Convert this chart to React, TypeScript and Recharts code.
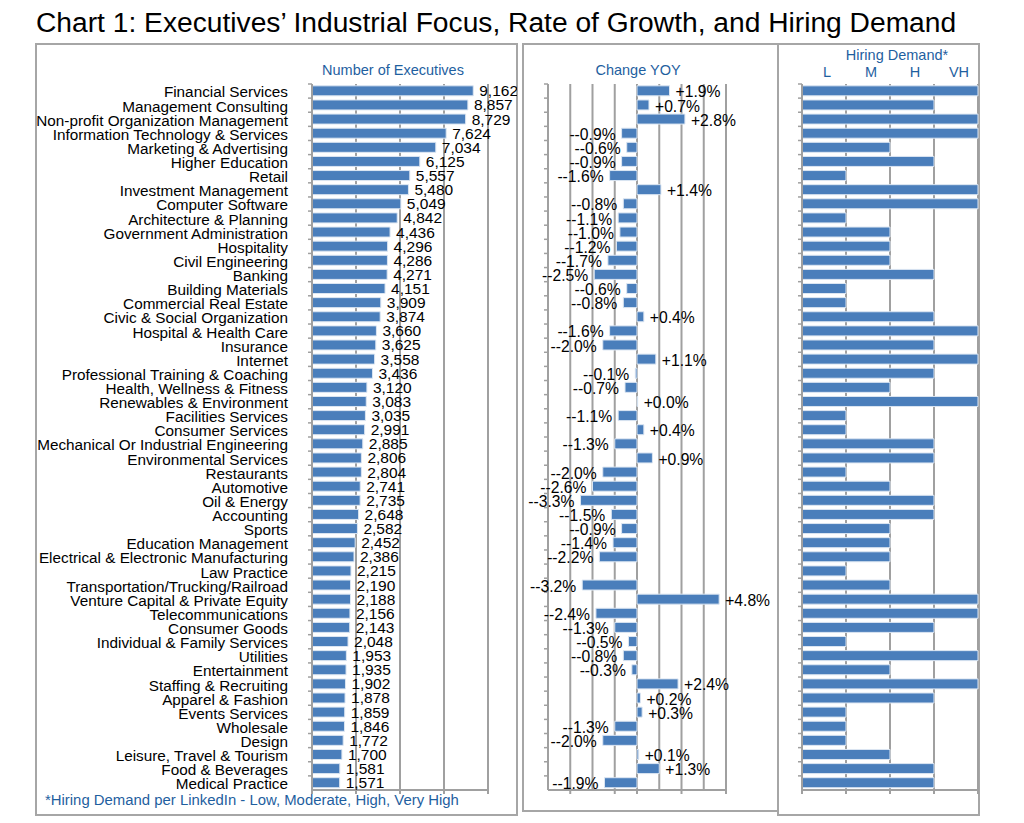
import React from 'react';
import { BarChart, Bar, XAxis, YAxis, CartesianGrid, LabelList } from 'recharts';

const FONT = '"Liberation Sans", Arial, Helvetica, sans-serif';
const BAR_FILL = '#4a7ebb';
const BAR_STROKE = '#dce6f2';
const GRID = '#a0a0a0';
const HEADER = '#1f5f9f';

const TITLE = 'Chart 1: Executives\u2019 Industrial Focus, Rate of Growth, and Hiring Demand';
const FOOTNOTE = '*Hiring Demand per LinkedIn - Low, Moderate, High, Very High';

const categories = [
  'Financial Services',
  'Management Consulting',
  'Non-profit Organization Management',
  'Information Technology & Services',
  'Marketing & Advertising',
  'Higher Education',
  'Retail',
  'Investment Management',
  'Computer Software',
  'Architecture & Planning',
  'Government Administration',
  'Hospitality',
  'Civil Engineering',
  'Banking',
  'Building Materials',
  'Commercial Real Estate',
  'Civic & Social Organization',
  'Hospital & Health Care',
  'Insurance',
  'Internet',
  'Professional Training & Coaching',
  'Health, Wellness & Fitness',
  'Renewables & Environment',
  'Facilities Services',
  'Consumer Services',
  'Mechanical Or Industrial Engineering',
  'Environmental Services',
  'Restaurants',
  'Automotive',
  'Oil & Energy',
  'Accounting',
  'Sports',
  'Education Management',
  'Electrical & Electronic Manufacturing',
  'Law Practice',
  'Transportation/Trucking/Railroad',
  'Venture Capital & Private Equity',
  'Telecommunications',
  'Consumer Goods',
  'Individual & Family Services',
  'Utilities',
  'Entertainment',
  'Staffing & Recruiting',
  'Apparel & Fashion',
  'Events Services',
  'Wholesale',
  'Design',
  'Leisure, Travel & Tourism',
  'Food & Beverages',
  'Medical Practice',
];

const executives = [
  9162, 8857, 8729, 7624, 7034, 6125, 5557, 5480, 5049, 4842,
  4436, 4296, 4286, 4271, 4151, 3909, 3874, 3660, 3625, 3558,
  3436, 3120, 3083, 3035, 2991, 2885, 2806, 2804, 2741, 2735,
  2648, 2582, 2452, 2386, 2215, 2190, 2188, 2156, 2143, 2048,
  1953, 1935, 1902, 1878, 1859, 1846, 1772, 1700, 1581, 1571,
];

const changeYoy = [
  1.9, 0.7, 2.8, -0.9, -0.6, -0.9, -1.6, 1.4, -0.8, -1.1,
  -1.0, -1.2, -1.7, -2.5, -0.6, -0.8, 0.4, -1.6, -2.0, 1.1,
  -0.1, -0.7, 0.04, -1.1, 0.4, -1.3, 0.9, -2.0, -2.6, -3.3,
  -1.5, -0.9, -1.4, -2.2, 0.0, -3.2, 4.8, -2.4, -1.3, -0.5,
  -0.8, -0.3, 2.4, 0.2, 0.3, -1.3, -2.0, 0.1, 1.3, -1.9,
];

// 1 = Low, 2 = Moderate, 3 = High, 4 = Very High
const hiringDemand = [
  4, 3, 4, 4, 2, 3, 1, 4, 4, 1,
  2, 2, 2, 3, 1, 1, 3, 4, 3, 4,
  3, 2, 4, 1, 1, 3, 3, 1, 2, 3,
  3, 2, 2, 2, 1, 2, 4, 4, 3, 1,
  4, 2, 4, 3, 1, 1, 1, 2, 3, 3,
];

const hiringLevels = ['L', 'M', 'H', 'VH'];
const hiringTicks = [0, 1, 2, 3, 4];
const execTicks = [0, 2500, 5000, 7500, 10000];
const changeTicks = [-5.2, -3.9, -2.6, -1.3, 0, 1.3, 2.6, 3.9, 5.2];

const rows = categories.map((name, i) => ({
  name,
  executives: executives[i],
  change: changeYoy[i],
  hiring: hiringDemand[i],
}));

const CHART_H = 771;
const PLOT_TOP = 40;
const X_AXIS_H = 25;
const BAND = (CHART_H - PLOT_TOP - X_AXIS_H) / categories.length;

// hiring panel geometry (left edge of plot and width per level)
const HIRE_LEFT = 802;
const HIRE_STEP = 44;

const fmtChange = (v: number) => {
  if (v > 0) return `+${v.toFixed(1)}%`;
  if (v < 0) return `-${v.toFixed(1)}%`;
  return '0.0%';
};

function CatTick(props: any) {
  const { x, y, payload, off = 0, showText } = props;
  const ax = x + off;
  const ty = y - BAND / 2;
  return (
    <g>
      <line x1={ax - 4} x2={ax} y1={ty} y2={ty} stroke={GRID} strokeWidth={1.5} />
      {showText && (
        <text x={x} y={y} dy="0.42em" textAnchor="end" fontSize={15.3} fill="#000" fontFamily={FONT}>
          {payload.value}
        </text>
      )}
    </g>
  );
}

function ChangeLabel(props: any) {
  const vb = props.viewBox || props;
  const x = Number(vb.x);
  const y = Number(vb.y);
  const width = Number(vb.width);
  const height = Number(vb.height);
  const v = Number(props.value);
  const left = Math.min(x, x + width);
  const right = Math.max(x, x + width);
  const neg = v < 0;
  return (
    <text
      x={neg ? left - 6 : right + 6}
      y={y + height / 2}
      dy="0.42em"
      textAnchor={neg ? 'end' : 'start'}
      fontSize={15.7}
      fill="#000"
      fontFamily={FONT}
    >
      {fmtChange(v)}
    </text>
  );
}

const axisStyle = { stroke: GRID, strokeWidth: 2 };

// vertical grid lines at the axis tick values, mapped through the plot offset
const gridGen = (ticks: number[]) => (p: any) => {
  const off = p?.offset;
  if (!off || typeof off.left !== 'number' || typeof off.width !== 'number') return [];
  const d0 = ticks[0];
  const d1 = ticks[ticks.length - 1];
  return ticks.map((t) => off.left + ((t - d0) / (d1 - d0)) * off.width);
};

const Header = ({ x, y, text, size = 14.5 }: { x: number; y: number; text: string; size?: number }) => (
  <div
    style={{
      position: 'absolute',
      left: x,
      top: y,
      transform: 'translate(-50%, -50%)',
      fontSize: size,
      lineHeight: 1,
      color: HEADER,
      whiteSpace: 'nowrap',
    }}
  >
    {text}
  </div>
);

const Box = ({ l, t, w, h }: { l: number; t: number; w: number; h: number }) => (
  <div
    style={{
      position: 'absolute',
      left: l,
      top: t,
      width: w,
      height: h,
      border: '2px solid #a6a6a6',
      boxSizing: 'border-box',
    }}
  />
);

export default function App() {
  return (
    <div
      style={{
        position: 'absolute',
        left: 0,
        top: 0,
        width: 1024,
        height: 823,
        background: '#fff',
        fontFamily: FONT,
        overflow: 'hidden',
      }}
    >
      <div
        style={{
          position: 'absolute',
          left: 36,
          top: 5,
          fontSize: 28.2,
          lineHeight: '34px',
          color: '#000',
          whiteSpace: 'nowrap',
        }}
      >
        {TITLE}
      </div>

      <Box l={35} t={43} w={483} h={773} />
      <Box l={522} t={43} w={257} h={769} />
      <Box l={777} t={43} w={203} h={773} />

      <Header x={393} y={70} text="Number of Executives" />
      <Header x={638} y={70} text="Change YOY" />
      <Header x={897} y={55} text="Hiring Demand*" />
      {hiringLevels.map((lv, i) => (
        <Header key={lv} x={HIRE_LEFT + (i + 0.5) * HIRE_STEP + 3} y={72} text={lv} />
      ))}

      <div style={{ position: 'absolute', left: 36, top: 44 }}>
        <BarChart
          width={481}
          height={CHART_H}
          data={rows}
          layout="vertical"
          margin={{ top: PLOT_TOP, right: 29, bottom: 0, left: 0 }}
          barCategoryGap="13%"
        >
          <CartesianGrid
            horizontal={false}
            stroke={GRID}
            strokeWidth={2}
            verticalCoordinatesGenerator={gridGen(execTicks)}
          />
          <XAxis
            type="number"
            domain={[0, 10000]}
            ticks={execTicks}
            tick={() => <g />}
            tickSize={4}
            height={X_AXIS_H}
            axisLine={axisStyle}
            tickLine={axisStyle}
          />
          <YAxis
            type="category"
            dataKey="name"
            width={276}
            interval={0}
            tickSize={0}
            tickMargin={24}
            tickLine={false}
            axisLine={axisStyle}
            tick={(p: any) => <CatTick {...p} off={24} showText />}
          />
          <Bar dataKey="executives" fill={BAR_FILL} stroke={BAR_STROKE} strokeWidth={1} isAnimationActive={false}>
            <LabelList
              dataKey="executives"
              position="right"
              offset={6}
              formatter={(v: any) => Number(v).toLocaleString('en-US')}
              fontSize={15.5}
              fill="#000"
              fontFamily={FONT}
            />
          </Bar>
        </BarChart>
      </div>

      <div style={{ position: 'absolute', left: 522, top: 44 }}>
        <BarChart
          width={256}
          height={CHART_H}
          data={rows}
          layout="vertical"
          margin={{ top: PLOT_TOP, right: 52, bottom: 0, left: 0 }}
          barCategoryGap="13%"
        >
          <CartesianGrid
            horizontal={false}
            stroke={GRID}
            strokeWidth={2}
            verticalCoordinatesGenerator={gridGen(changeTicks)}
          />
          <XAxis
            type="number"
            domain={[-5.2, 5.2]}
            ticks={changeTicks}
            tick={() => <g />}
            tickSize={4}
            height={X_AXIS_H}
            axisLine={axisStyle}
            tickLine={axisStyle}
          />
          <YAxis
            type="category"
            dataKey="name"
            width={26}
            interval={0}
            tickSize={0}
            tickMargin={0}
            tickLine={false}
            axisLine={axisStyle}
            tick={(p: any) => <CatTick {...p} off={0} />}
          />
          <Bar dataKey="change" fill={BAR_FILL} stroke={BAR_STROKE} strokeWidth={1} isAnimationActive={false}>
            <LabelList dataKey="change" content={ChangeLabel} />
          </Bar>
        </BarChart>
      </div>

      <div style={{ position: 'absolute', left: 778, top: 44 }}>
        <BarChart
          width={201}
          height={CHART_H}
          data={rows}
          layout="vertical"
          margin={{ top: PLOT_TOP, right: 1, bottom: 0, left: 0 }}
          barCategoryGap="13%"
        >
          <CartesianGrid
            horizontal={false}
            stroke={GRID}
            strokeWidth={2}
            verticalCoordinatesGenerator={gridGen(hiringTicks)}
          />
          <XAxis
            type="number"
            domain={[0, 4]}
            ticks={hiringTicks}
            tick={() => <g />}
            tickSize={4}
            height={X_AXIS_H}
            axisLine={axisStyle}
            tickLine={axisStyle}
          />
          <YAxis
            type="category"
            dataKey="name"
            width={24}
            interval={0}
            tickSize={0}
            tickMargin={0}
            tickLine={false}
            axisLine={axisStyle}
            tick={(p: any) => <CatTick {...p} off={0} />}
          />
          <Bar dataKey="hiring" fill={BAR_FILL} stroke={BAR_STROKE} strokeWidth={1} isAnimationActive={false} />
        </BarChart>
      </div>

      <div
        style={{
          position: 'absolute',
          left: 45,
          top: 800,
          transform: 'translateY(-50%)',
          fontSize: 14.9,
          lineHeight: 1,
          color: HEADER,
          whiteSpace: 'nowrap',
        }}
      >
        {FOOTNOTE}
      </div>
    </div>
  );
}
